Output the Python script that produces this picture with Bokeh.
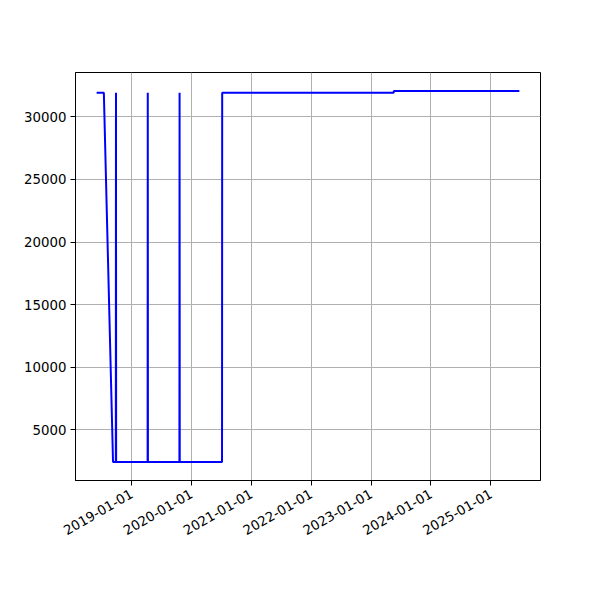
import datetime as dt
from bokeh.plotting import figure
from bokeh.models import Range1d, FixedTicker, DatetimeTickFormatter
from bokeh.embed import file_html
from bokeh.resources import INLINE
import math

# ---- data ----
dates = [
    "2018-06-02", "2018-07-16", "2018-09-10",
    "2018-09-27", "2018-09-28", "2018-09-29",
    "2019-04-09", "2019-04-10", "2019-04-11",
    "2019-10-20", "2019-10-21", "2019-10-22",
    "2020-07-06", "2020-07-07",
    "2023-05-19", "2023-05-20",
    "2025-06-24",
]
values = [
    31920, 31920, 2440,
    2440, 31920, 2440,
    2440, 31920, 2440,
    2440, 31920, 2440,
    2440, 31920,
    31920, 32060,
    32060,
]
x_tick_labels = ["2019-01-01", "2020-01-01", "2021-01-01", "2022-01-01",
                 "2023-01-01", "2024-01-01", "2025-01-01"]
y_ticks = [5000, 10000, 15000, 20000, 25000, 30000]

xs = [dt.datetime.strptime(d, "%Y-%m-%d") for d in dates]
x_ticks_dt = [dt.datetime.strptime(d, "%Y-%m-%d") for d in x_tick_labels]
epoch = dt.datetime(1970, 1, 1)
to_ms = lambda d: (d - epoch).total_seconds() * 1000.0

xmin, xmax = to_ms(min(xs)), to_ms(max(xs))
xpad = (xmax - xmin) * 0.05
ymin, ymax = min(values), max(values)
ypad = (ymax - ymin) * 0.05

p = figure(
    width=584, height=584,
    frame_width=465, frame_height=408,
    min_border_left=75, min_border_top=72, min_border_right=44, min_border_bottom=104,
    x_axis_type="datetime",
    x_range=Range1d(xmin - xpad, xmax + xpad),
    y_range=Range1d(ymin - ypad, ymax + ypad),
    output_backend="svg", toolbar_location=None,
)

p.line(xs, values, line_color="#0000ff", line_width=2)

p.xaxis.ticker = FixedTicker(ticks=[to_ms(d) for d in x_ticks_dt])
fmt = "%Y-%m-%d"
p.xaxis.formatter = DatetimeTickFormatter(
    microseconds=fmt, milliseconds=fmt, seconds=fmt, minsec=fmt, minutes=fmt,
    hourmin=fmt, hours=fmt, days=fmt, months=fmt, years=fmt,
)
p.xaxis.major_label_orientation = math.pi / 6
p.xaxis.major_label_text_align = "right"
p.xaxis.major_label_text_baseline = "top"
p.yaxis.ticker = FixedTicker(ticks=y_ticks)
p.yaxis.formatter.use_scientific = False

for ax in (p.xaxis, p.yaxis):
    ax.major_label_text_font = "DejaVu Sans"
    ax.major_label_text_font_size = "13.33px"
    ax.major_label_text_color = "black"
    ax.major_tick_out = 5
    ax.major_tick_in = 0
    ax.minor_tick_out = 0
    ax.minor_tick_in = 0
    ax.major_tick_line_color = "black"
    ax.axis_line_color = "black"
    ax.axis_line_width = 1
    ax.major_label_standoff = 4
p.xaxis.major_label_standoff = 7

p.grid.grid_line_color = "#b0b0b0"
p.grid.grid_line_width = 1
p.outline_line_color = "black"
p.outline_line_width = 1
p.outline_line_alpha = 1
p.background_fill_color = "white"
p.border_fill_color = "white"

open("out.html", "w").write(file_html(p, INLINE))
